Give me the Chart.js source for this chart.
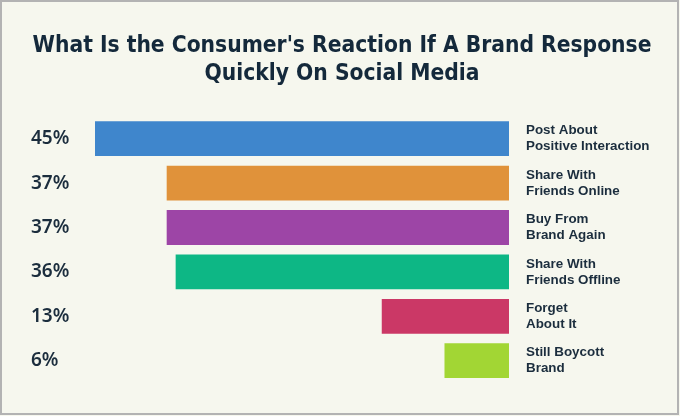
<!DOCTYPE html>
<html>
<head>
<meta charset="utf-8">
<script src="https://cdn.jsdelivr.net/npm/chart.js@4"></script>
<style>
  html, body { margin: 0; padding: 0; background: #f6f7ee; }
  #wrap { width: 680px; height: 416px; }
</style>
</head>
<body>
<div id="wrap"><canvas id="reactionChart" width="680" height="416"></canvas></div>
<script>
const categories = [
    ['Post About', 'Positive Interaction'],
    ['Share With', 'Friends Online'],
    ['Buy From', 'Brand Again'],
    ['Share With', 'Friends Offline'],
    ['Forget', 'About It'],
    ['Still Boycott', 'Brand']
]
const shares = [45, 37, 37, 36, 13, 6]
const shareLabels = shares.map(v => v + '%')
const barColors = ['#3f86cc', '#e0923a', '#9d45a6', '#0db785', '#cb3866', '#a2d634']
const textColor = '#1b2d3d'

// cream background and the thin grey frame
const frame = {
    id: 'frame',
    beforeDraw(chart) {
        const ctx = chart.ctx
        ctx.save()
        ctx.fillStyle = '#f6f7ee'
        ctx.fillRect(0, 0, chart.width, chart.height)
        ctx.strokeStyle = '#b3b3b3'
        ctx.lineWidth = 2
        ctx.strokeRect(1, 1, chart.width - 3, chart.height - 3)
        ctx.restore()
    }
}

const ctx = document.getElementById('reactionChart').getContext('2d')
const reactionChart = new Chart(ctx, {
    type: 'bar',
    data: {
        labels: shareLabels,
        datasets: [{
            data: shares,
            backgroundColor: barColors,
            borderWidth: 0,
            base: -1.2,
            barPercentage: 0.88,
            categoryPercentage: 0.89,
            yAxisID: 'y'
        }]
    },
    options: {
        indexAxis: 'y',
        responsive: false,
        animation: false,
        layout: { padding: { left: 31, right: 27, top: 0, bottom: 27 } },
        plugins: {
            legend: { display: false },
            tooltip: { enabled: false },
            title: {
                display: true,
                text: ["What Is the Consumer's Reaction If A Brand Response", 'Quickly On Social Media'],
                color: '#14293b',
                font: { family: "'DejaVu Sans Condensed', sans-serif", size: 22.6, weight: 'bold', lineHeight: 1.25 },
                padding: { top: 32, bottom: 28 }
            }
        },
        scales: {
            x: {
                display: false,
                reverse: true,
                min: -1.2,
                max: 45
            },
            y: {
                position: 'left',
                grid: { display: false, drawTicks: false },
                border: { display: false },
                ticks: {
                    color: textColor,
                    crossAlign: 'far',
                    padding: 0,
                    font: { family: "'Noto Sans', sans-serif", size: 19, weight: '600' }
                },
                afterFit(scale) { scale.width = 64 }
            },
            y2: {
                type: 'category',
                position: 'right',
                labels: categories,
                offset: true,
                grid: { display: false, drawTicks: false },
                border: { display: false },
                ticks: {
                    color: textColor,
                    crossAlign: 'near',
                    padding: 17,
                    font: { family: "'Liberation Sans', sans-serif", size: 13.4, weight: 'bold', lineHeight: 1.2 }
                },
                afterFit(scale) { scale.width = 144 }
            }
        }
    },
    plugins: [frame]
})
</script>
</body>
</html>
